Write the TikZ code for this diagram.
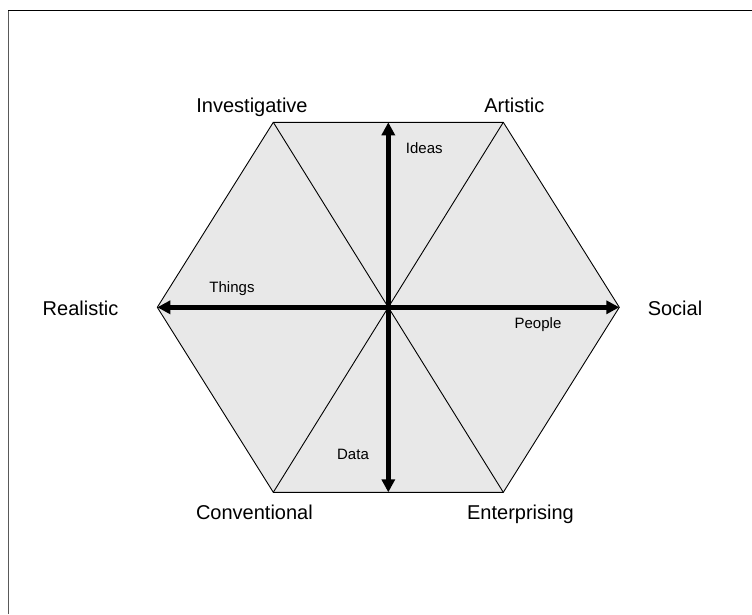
\documentclass[tikz,border=0pt]{standalone}
\usepackage{fontspec}
\setmainfont{Liberation Sans}
\usetikzlibrary{arrows.meta}
\definecolor{hexfill}{HTML}{E8E8E8}
\tikzset{
  biglabel/.style={anchor=base, inner sep=0pt, font=\fontsize{20}{24}\selectfont},
  smalllabel/.style={anchor=base, inner sep=0pt, font=\fontsize{15}{18}\selectfont},
  thinline/.style={draw=black, line width=0.9pt},
  axisarrow/.style={line width=4.5pt, {Triangle[length=13pt,width=13pt]}-{Triangle[length=13pt,width=13pt]}},
}
\begin{document}
\begin{tikzpicture}[x=1pt,y=-1pt]
\useasboundingbox (0,0) rectangle (752,614);
% frame (only left and top edges visible)
\draw[gray!70!black, line width=1.2pt] (8.7,614) -- (8.7,10.7);
\draw[black, line width=1.2pt] (8.1,10.7) -- (752,10.7);
% hexagon vertices
\coordinate (C) at (388.3,307.3);
\coordinate (TL) at (273.3,122.3);
\coordinate (TR) at (503.3,122.3);
\coordinate (R) at (619.3,307.3);
\coordinate (BR) at (503.3,492.3);
\coordinate (BL) at (273.3,492.3);
\coordinate (L) at (157.3,307.3);
\coordinate (T) at (388.3,122.3);
\coordinate (B) at (388.3,492.3);
% fill
\fill[hexfill] (TL) -- (TR) -- (R) -- (BR) -- (BL) -- (L) -- cycle;
% diagonals
\draw[thinline] (TL) -- (BR);
\draw[thinline] (TR) -- (BL);
% outline
\draw[thinline, line join=miter] (TL) -- (TR) -- (R) -- (BR) -- (BL) -- (L) -- cycle;
% axes
\draw[axisarrow] (L) -- (R);
\draw[axisarrow] (B) -- (T);
% labels
\node[biglabel] (inv) at (252,112.5) {Investigative};
\node[biglabel] (art) at (514.3,112.5) {Artistic};
\node[biglabel] (rea) at (80.5,315.7) {Realistic};
\node[biglabel] (soc) at (675,315.7) {Social};
\node[biglabel] (con) at (254.4,519.3) {Conventional};
\node[biglabel] (ent) at (520.5,519.3) {Enterprising};
\node[smalllabel] (ide) at (424.3,153.3) {Ideas};
\node[smalllabel] (thi) at (232,292.3) {Things};
\node[smalllabel] (peo) at (538,328.3) {People};
\node[smalllabel] (dat) at (353,459.3) {Data};
\end{tikzpicture}
\end{document}
